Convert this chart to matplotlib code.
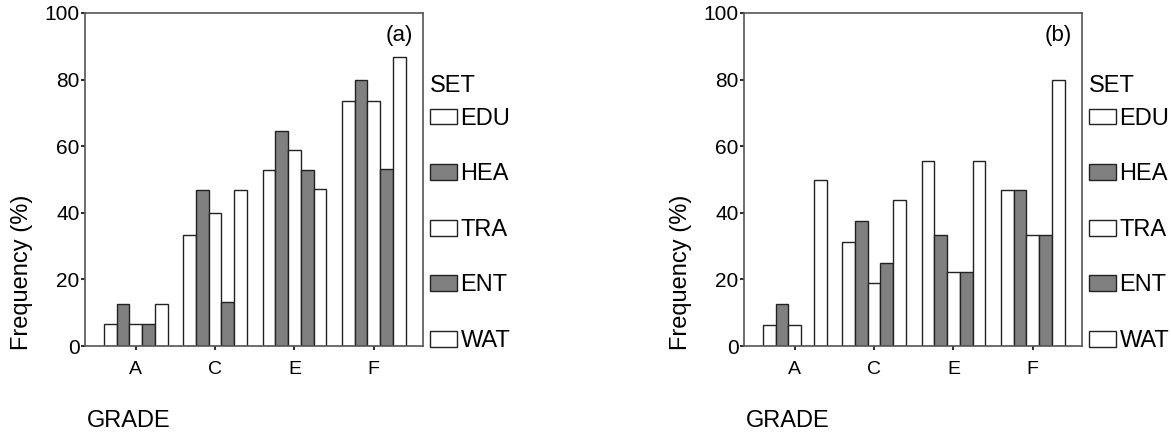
import matplotlib.pyplot as plt
import numpy as np

plt.rcParams['font.family'] = ['Liberation Sans', 'DejaVu Sans']

grades = ['A', 'C', 'E', 'F']
sets = ['EDU', 'HEA', 'TRA', 'ENT', 'WAT']

# frequency (%) per set, one value per grade
freq_a = {
    'EDU': [6.7, 33.3, 52.9, 73.7],
    'HEA': [12.7, 46.7, 64.7, 80.0],
    'TRA': [6.7, 40.0, 58.8, 73.7],
    'ENT': [6.7, 13.3, 52.9, 53.3],
    'WAT': [12.7, 46.7, 47.1, 86.7],
}
freq_b = {
    'EDU': [6.3, 31.3, 55.6, 46.7],
    'HEA': [12.5, 37.5, 33.3, 46.7],
    'TRA': [6.3, 18.8, 22.2, 33.3],
    'ENT': [0.0, 25.0, 22.2, 33.3],
    'WAT': [50.0, 43.8, 55.6, 80.0],
}
fills = {'EDU': 'white', 'HEA': '#808080', 'TRA': 'white', 'ENT': '#808080', 'WAT': 'white'}

fig = plt.figure(figsize=(11.71, 4.32), dpi=100)
W, H = 1171, 432
panels = [(freq_a, '(a)', 85), (freq_b, '(b)', 744)]
width = 0.16
x = np.arange(len(grades))

for data, tag, left in panels:
    ax = fig.add_axes([left / W, (H - 346) / H, 338 / W, 333 / H])
    for i, s in enumerate(sets):
        ax.bar(x + (i - 2) * width, data[s], width, color=fills[s],
               edgecolor='#222222', linewidth=1.0, label=s)
    ax.set_xlim(-0.64, 3.62)
    ax.set_ylim(0, 100)
    ax.set_xticks(x)
    ax.set_xticklabels(grades)
    ax.set_yticks([0, 20, 40, 60, 80, 100])
    ax.tick_params(axis='both', labelsize=15, length=3, width=1.5,
                   color='#333333', pad=1)
    ax.tick_params(axis='x', labelsize=14, pad=8)
    for sp in ax.spines.values():
        sp.set_color('#555555')
        sp.set_linewidth(1.2)
    ax.set_ylabel('Frequency (%)', fontsize=17)
    ax.yaxis.set_label_coords(-0.154, 0.22)
    ax.text(0.97, 0.965, tag, transform=ax.transAxes, ha='right', va='top', fontsize=16)
    ax.text(0.005, -0.225, 'GRADE', transform=ax.transAxes, ha='left', va='center', fontsize=17)
    ax.text(1.02, 0.78, 'SET', transform=ax.transAxes, ha='left', va='center', fontsize=17)
    ax.legend(loc='upper left', bbox_to_anchor=(1.02, 0.715),
              frameon=False, fontsize=17,
              handlelength=1.15, handleheight=0.65, handletextpad=0.15,
              labelspacing=1.42, borderaxespad=0, borderpad=0)

fig.savefig('out.png', dpi=100)
